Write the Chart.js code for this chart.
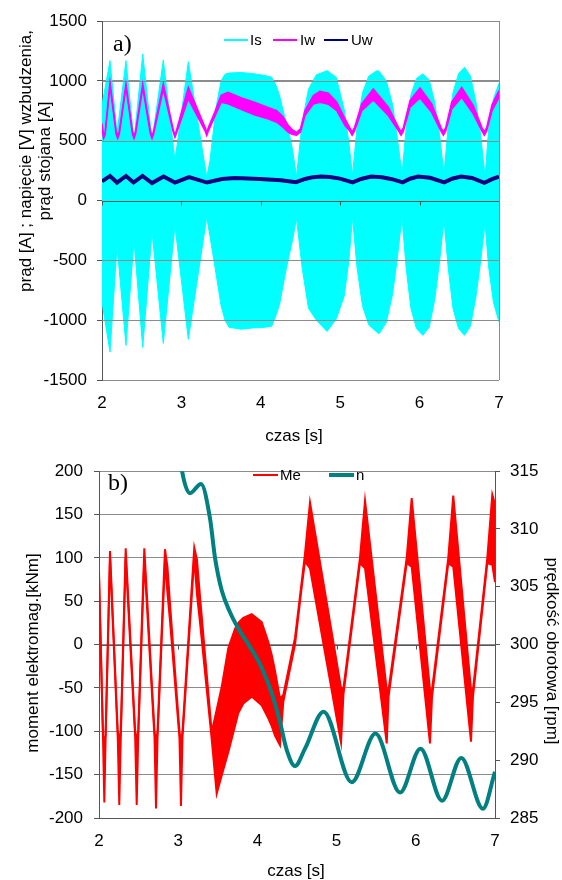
<!DOCTYPE html>
<html>
<head>
<meta charset="utf-8">
<title>Prąd i moment</title>
<script src="https://cdn.jsdelivr.net/npm/chart.js@4/dist/chart.umd.min.js"></script>
<style>
    html, body { margin: 0; padding: 0; background: #fff; }
    #wrap { position: relative; width: 562px; height: 880px; }
    #top { position: absolute; left: 0; top: 0; }
    #bottom { position: absolute; left: 0; top: 450px; }
</style>
</head>
<body>
<div id="wrap">
    <div id="top"><canvas id="chartA" width="562" height="450"></canvas></div>
    <div id="bottom"><canvas id="chartB" width="562" height="430"></canvas></div>
</div>
<script>
// ---- a) stator current Is (envelope), field current Iw (band), field voltage Uw ----
const isTime = [2.000, 2.101, 2.189, 2.302, 2.403, 2.513, 2.630, 2.772, 2.919, 3.087, 3.319, 3.360, 3.423, 3.445, 3.500, 3.549, 3.600, 3.750, 3.900, 4.050, 4.137, 4.200, 4.242, 4.300, 4.343, 4.400, 4.450, 4.520, 4.600, 4.700, 4.834, 4.950, 5.050, 5.110, 5.155, 5.210, 5.280, 5.360, 5.463, 5.490, 5.580, 5.660, 5.720, 5.778, 5.830, 5.890, 5.960, 6.040, 6.120, 6.190, 6.250, 6.307, 6.360, 6.420, 6.490, 6.565, 6.640, 6.710, 6.770, 6.824, 6.870, 6.930, 7.000];
const isHigh = [800, 1169, 560, 1169, 500, 1225, 500, 1175, 334, 1160, 195, 334, 700, 810, 1000, 1055, 1065, 1070, 1060, 1045, 1030, 950, 862, 700, 612, 420, 200, 650, 930, 1050, 1085, 1030, 760, 480, 210, 600, 900, 1040, 1085, 1080, 1000, 800, 520, 220, 600, 880, 1020, 1058, 1010, 820, 560, 220, 620, 900, 1060, 1113, 1040, 820, 540, 200, 600, 850, 980];
const isLow = [-850, -1267, -376, -1211, -334, -1228, -264, -1194, -209, -1160, -139, -300, -557, -650, -880, -1000, -1060, -1075, -1065, -1060, -1050, -945, -850, -640, -500, -330, -150, -560, -900, -1000, -1094, -990, -800, -500, -139, -550, -880, -1040, -1100, -1113, -1020, -780, -480, -139, -560, -900, -1070, -1127, -1060, -830, -520, -160, -560, -900, -1070, -1127, -1050, -800, -500, -194, -560, -850, -1016];

const iwTime = [2.000, 2.020, 2.040, 2.101, 2.178, 2.198, 2.218, 2.302, 2.383, 2.403, 2.423, 2.513, 2.610, 2.630, 2.650, 2.772, 2.899, 2.919, 2.939, 3.087, 3.299, 3.319, 3.339, 3.420, 3.500, 3.587, 3.750, 3.927, 4.100, 4.200, 4.280, 4.343, 4.400, 4.450, 4.500, 4.557, 4.662, 4.746, 4.851, 4.957, 5.061, 5.120, 5.150, 5.180, 5.271, 5.417, 5.606, 5.736, 5.766, 5.796, 5.879, 6.005, 6.152, 6.269, 6.299, 6.329, 6.404, 6.530, 6.676, 6.785, 6.815, 6.845, 6.912, 7.000];
const iwHigh = [645, 538, 575, 988, 580, 538, 580, 975, 580, 538, 580, 975, 580, 538, 580, 974, 590, 548, 590, 946, 610, 570, 610, 740, 880, 905, 860, 820, 775, 751, 700, 630, 590, 570, 600, 751, 877, 913, 897, 821, 682, 610, 575, 610, 807, 932, 779, 610, 575, 610, 835, 940, 807, 610, 575, 610, 821, 946, 793, 610, 575, 610, 800, 918];
const iwLow = [615, 518, 550, 955, 555, 518, 555, 945, 555, 518, 555, 940, 555, 518, 555, 930, 565, 528, 565, 850, 580, 543, 580, 700, 820, 808, 762, 715, 680, 654, 612, 572, 552, 545, 572, 710, 807, 821, 805, 751, 626, 580, 545, 580, 751, 840, 710, 580, 545, 580, 779, 857, 737, 580, 545, 580, 765, 862, 724, 580, 545, 580, 750, 860];

const uwTime = [2.000, 2.101, 2.189, 2.302, 2.397, 2.510, 2.630, 2.775, 2.919, 3.096, 3.322, 3.511, 3.675, 3.990, 4.254, 4.443, 4.557, 4.657, 4.758, 4.871, 4.997, 5.157, 5.262, 5.388, 5.526, 5.652, 5.787, 5.879, 5.980, 6.131, 6.311, 6.408, 6.521, 6.660, 6.815, 6.912, 7.000];
const uwValue = [159, 205, 150, 205, 150, 205, 146, 200, 150, 195, 150, 180, 188, 180, 170, 153, 180, 195, 200, 196, 183, 152, 180, 200, 194, 178, 152, 182, 200, 190, 152, 182, 200, 188, 148, 178, 200];

// ---- b) electromagnetic torque Me (band) and speed n ----
const meTime = [2.000, 2.051, 2.067, 2.083, 2.139, 2.237, 2.256, 2.275, 2.337, 2.457, 2.476, 2.495, 2.572, 2.701, 2.720, 2.739, 2.833, 2.865, 2.896, 3.016, 3.035, 3.054, 3.203, 3.237, 3.275, 3.423, 3.486, 3.549, 3.633, 3.717, 3.759, 3.822, 3.928, 4.054, 4.138, 4.181, 4.222, 4.285, 4.327, 4.475, 4.559, 4.601, 4.664, 5.056, 5.087, 5.295, 5.359, 5.633, 5.656, 5.885, 5.948, 6.179, 6.205, 6.410, 6.473, 6.697, 6.722, 6.903, 6.966, 7.000];
const meHigh = [84, -105, -110, -105, 108, -100, -110, -100, 111, -100, -110, -100, 111, -100, -112, -100, 110, 89, 48, -100, -112, -100, 112, 98, 56, -101, -75, -49, -4, 18, 25, 31, 35, 26, 3, -12, -30, -62, -58, 8, 72, 105, 164, -50, -50, 100, 166, -52, -52, 100, 169, -52, -52, 100, 172, -52, -52, 100, 173, 162];
const meLow = [78, -110, -182, -110, 100, -108, -185, -108, 100, -108, -185, -108, 98, -108, -189, -108, 95, 59, 28, -108, -186, -108, 100, 58, 26, -109, -172, -151, -124, -94, -79, -68, -60, -70, -85, -94, -105, -116, -66, 0, 66, 96, 88, -113, -57, 94, 88, -114, -60, 94, 90, -114, -60, 94, 90, -112, -60, 94, 92, 72];

const nTime = [3.023, 3.052, 3.149, 3.288, 3.402, 3.465, 3.549, 3.654, 3.759, 3.907, 4.054, 4.181, 4.285, 4.370, 4.475, 4.601, 4.835, 5.191, 5.491, 5.801, 6.059, 6.331, 6.574, 6.848, 7.000];
const nValue = [316.5, 314.9, 313.1, 313.9, 310.9, 307.5, 304.7, 302.8, 301.4, 299.8, 298.0, 295.8, 293.3, 290.9, 289.5, 291.0, 294.2, 288.1, 292.3, 287.2, 291.0, 286.5, 290.2, 285.8, 289.0];

// axis ticks
const timeTicks = [2, 3, 4, 5, 6, 7];
const currentTicks = [-1500, -1000, -500, 0, 500, 1000, 1500];
const torqueTicks = [-200, -150, -100, -50, 0, 50, 100, 150, 200];
const speedTicks = [285, 290, 295, 300, 305, 310, 315];

const FONT = "'Liberation Sans', Arial, Helvetica, sans-serif";
const SERIF = "'Liberation Serif', 'Times New Roman', serif";
const GRID = '#8c8c8c';
const AXIS = '#555555';

function toPoints(xs, ys) {
    return xs.map((x, i) => ({ x: x, y: ys[i] }));
}

function band(color, data, fill, width, order) {
    return {
        data: data,
        borderColor: color,
        backgroundColor: color,
        borderWidth: width,
        pointRadius: 0,
        fill: fill,
        order: order
    };
}

function tickOptions(padding) {
    return {
        color: '#000',
        font: { family: FONT, size: 17 },
        padding: padding,
        maxRotation: 0,
        callback: v => String(v)
    };
}

function valueAxis(ticks, width, padding, extra) {
    return Object.assign({
        min: ticks[0],
        max: ticks[ticks.length - 1],
        afterBuildTicks: s => { s.ticks = ticks.map(v => ({ value: v })); },
        ticks: tickOptions(padding),
        grid: { color: GRID, tickColor: AXIS, tickLength: 5 },
        border: { color: AXIS },
        afterFit: s => { s.width = width; }
    }, extra || {});
}

function timeAxis(height) {
    return {
        type: 'linear',
        min: timeTicks[0],
        max: timeTicks[timeTicks.length - 1],
        afterBuildTicks: s => { s.ticks = timeTicks.map(v => ({ value: v })); },
        ticks: tickOptions(13),
        grid: { display: false, drawTicks: false },
        border: { display: false },
        afterFit: s => { s.height = height; }
    };
}

// short ticks under the zero line at each full second
function zeroAxis(chart, color) {
    const ctx = chart.ctx, area = chart.chartArea;
    const y0 = Math.round(chart.scales.y.getPixelForValue(0)) + 0.5;
    ctx.save();
    ctx.strokeStyle = color;
    ctx.lineWidth = 1;
    ctx.beginPath();
    ctx.moveTo(area.left, y0);
    ctx.lineTo(area.right, y0);
    timeTicks.forEach(t => {
        const px = Math.round(chart.scales.x.getPixelForValue(t)) + 0.5;
        ctx.moveTo(px, y0);
        ctx.lineTo(px, y0 + 4);
    });
    ctx.stroke();
    ctx.restore();
}

function legend(ctx, items, y) {
    ctx.save();
    ctx.font = '15px ' + FONT;
    ctx.textBaseline = 'middle';
    ctx.textAlign = 'left';
    items.forEach(it => {
        ctx.strokeStyle = it.color;
        ctx.lineWidth = it.lw;
        ctx.beginPath();
        ctx.moveTo(it.x1, y);
        ctx.lineTo(it.x2, y);
        ctx.stroke();
        ctx.fillStyle = '#000';
        ctx.fillText(it.text, it.tx, y + 1);
    });
    ctx.restore();
}

function rotatedText(ctx, text, x, y, angle) {
    ctx.save();
    ctx.translate(x, y);
    ctx.rotate(angle);
    ctx.textAlign = 'center';
    ctx.textBaseline = 'alphabetic';
    ctx.fillText(text, 0, 0);
    ctx.restore();
}

// chart a: grid drawn over the stator current area, texts on top
const currentExtras = {
    id: 'currentExtras',
    afterDatasetDraw(chart, args) {
        if (args.index !== 0) return;
        const ctx = chart.ctx, area = chart.chartArea, y = chart.scales.y;
        ctx.save();
        ctx.strokeStyle = GRID;
        ctx.lineWidth = 1;
        ctx.beginPath();
        currentTicks.slice(1, -1).forEach(v => {
            if (v === 0) return;
            const py = Math.round(y.getPixelForValue(v)) + 0.5;
            ctx.moveTo(area.left, py);
            ctx.lineTo(area.right, py);
        });
        ctx.stroke();
        ctx.restore();
        zeroAxis(chart, AXIS);
    },
    afterDraw(chart) {
        const ctx = chart.ctx, area = chart.chartArea;
        ctx.save();
        ctx.strokeStyle = GRID;
        ctx.lineWidth = 1;
        ctx.beginPath();
        ctx.moveTo(Math.round(area.right) + 0.5, area.top);
        ctx.lineTo(Math.round(area.right) + 0.5, area.bottom);
        ctx.stroke();

        ctx.fillStyle = '#000';
        ctx.font = '17px ' + FONT;
        ctx.textAlign = 'center';
        ctx.fillText('czas [s]', 294, 441);
        rotatedText(ctx, 'prąd [A] ; napięcie [V] wzbudzenia,', 31, 161, -Math.PI / 2);
        rotatedText(ctx, 'prąd stojana [A]', 50, 161, -Math.PI / 2);

        ctx.font = '24px ' + SERIF;
        ctx.textAlign = 'left';
        ctx.fillText('a)', 113, 51);
        ctx.restore();

        legend(ctx, [
            { text: 'Is', color: '#00ffff', lw: 2, x1: 224, x2: 248, tx: 250 },
            { text: 'Iw', color: '#ff00ff', lw: 2, x1: 273, x2: 297, tx: 300 },
            { text: 'Uw', color: '#000080', lw: 2, x1: 324, x2: 348, tx: 351 }
        ], 40);
    }
};

const torqueExtras = {
    id: 'torqueExtras',
    beforeDatasetsDraw(chart) {
        zeroAxis(chart, AXIS);
    },
    afterDraw(chart) {
        const ctx = chart.ctx;
        ctx.save();
        ctx.fillStyle = '#000';
        ctx.font = '17px ' + FONT;
        ctx.textAlign = 'center';
        ctx.fillText('czas [s]', 296, 426);
        rotatedText(ctx, 'moment elektromag.[kNm]', 37.5, 203, -Math.PI / 2);
        rotatedText(ctx, 'prędkość obrotowa [rpm]', 547, 201, Math.PI / 2);

        ctx.font = '24px ' + SERIF;
        ctx.textAlign = 'left';
        ctx.fillText('b)', 108, 40);
        ctx.restore();

        legend(ctx, [
            { text: 'Me', color: '#ff0000', lw: 2, x1: 253, x2: 278, tx: 280 },
            { text: 'n', color: '#008080', lw: 4, x1: 329, x2: 354, tx: 356 }
        ], 25);
    }
};

const chartA = new Chart(document.getElementById('chartA'), {
    type: 'line',
    data: {
        datasets: [
            band('#00ffff', toPoints(isTime, isHigh), false, 1, 3),
            band('#00ffff', toPoints(isTime, isLow), '-1', 1, 3),
            band('#ff00ff', toPoints(iwTime, iwHigh), false, 1.5, 2),
            band('#ff00ff', toPoints(iwTime, iwLow), '-1', 1.5, 2),
            {
                data: toPoints(uwTime, uwValue),
                borderColor: '#000080',
                borderWidth: 4,
                pointRadius: 0,
                fill: false,
                order: 1
            }
        ]
    },
    options: {
        responsive: false,
        animation: false,
        devicePixelRatio: 1,
        layout: { padding: { left: 0, right: 63, top: 21, bottom: 0 } },
        plugins: { legend: { display: false }, tooltip: { enabled: false } },
        scales: {
            x: timeAxis(70),
            y: valueAxis(currentTicks, 102, 10)
        }
    },
    plugins: [currentExtras]
});

const chartB = new Chart(document.getElementById('chartB'), {
    type: 'line',
    data: {
        datasets: [
            band('#ff0000', toPoints(meTime, meHigh), false, 2, 2),
            band('#ff0000', toPoints(meTime, meLow), '-1', 2, 2),
            {
                data: toPoints(nTime, nValue),
                yAxisID: 'y1',
                borderColor: '#008080',
                borderWidth: 4,
                pointRadius: 0,
                fill: false,
                cubicInterpolationMode: 'monotone',
                clip: 0,
                order: 1
            }
        ]
    },
    options: {
        responsive: false,
        animation: false,
        devicePixelRatio: 1,
        layout: { padding: { left: 0, right: 0, top: 11, bottom: 0 } },
        plugins: { legend: { display: false }, tooltip: { enabled: false } },
        scales: {
            x: timeAxis(62),
            y: valueAxis(torqueTicks, 99, 11, {
                grid: {
                    color: c => (c.tick && c.tick.value === torqueTicks[0]) ? AXIS : GRID,
                    tickColor: AXIS,
                    tickLength: 5
                }
            }),
            y1: valueAxis(speedTicks, 67, 10, {
                position: 'right',
                grid: { drawOnChartArea: false, tickColor: AXIS, tickLength: 5 }
            })
        }
    },
    plugins: [torqueExtras]
});
</script>
</body>
</html>
